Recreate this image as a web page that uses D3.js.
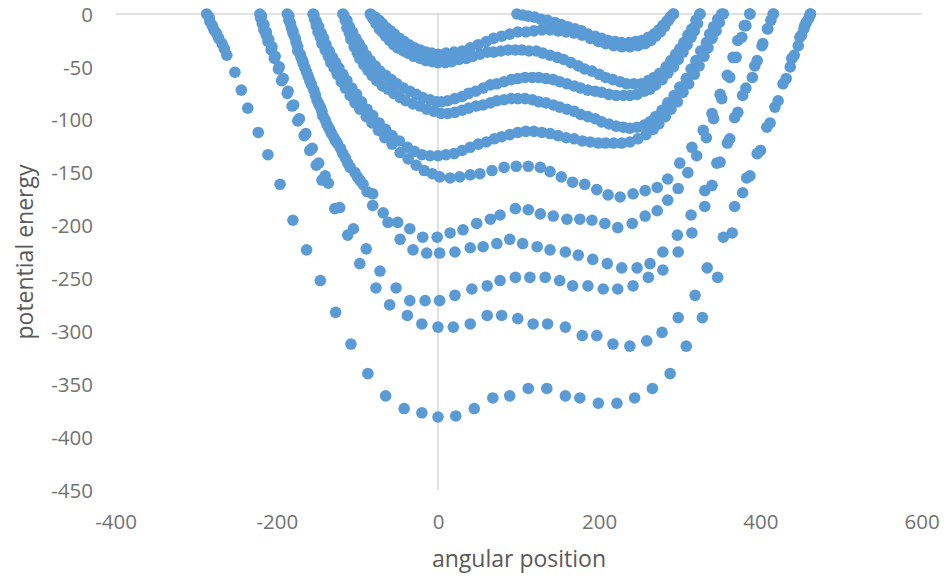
<!DOCTYPE html>
<html><head><meta charset="utf-8">
<script src="https://cdn.jsdelivr.net/npm/d3@7"></script>
<style>body{margin:0;background:#fff;}svg{display:block;}</style>
</head><body>
<script>
// ---- data (angular position, potential energy) ----
const xTicks = [-400, -200, 0, 200, 400, 600];
const yTicks = [0, -50, -100, -150, -200, -250, -300, -350, -400, -450];
const xTitle = "angular position";
const yTitle = "potential energy";

const stripTop = [[98,0],[105,-1],[112,-2],[120,-3],[128,-5],[136,-6],[145,-8],[153,-10],[161,-12],[170,-14],[178,-16],[186,-19],[195,-21],[203,-23],[211,-25],[220,-26],[228,-27],[237,-27],[245,-26],[253,-25],[261,-22],[268,-19],[274,-15],[279,-11],[284,-7],[288,-3],[292,0]];
const strip1 = [[-83,-1],[-78,-3],[-73,-6],[-69,-9],[-64,-13],[-59,-16],[-54,-19],[-48,-23],[-42,-26],[-36,-29],[-29,-32],[-22,-34],[-15,-36],[-8,-37],[0,-38],[10,-37],[20,-36],[30,-35],[40,-32],[50,-29],[60,-26],[69,-23],[79,-21],[89,-19],[99,-17],[109,-17],[119,-16],[129,-15],[139,-15],[149,-16],[159,-17],[169,-18],[179,-20],[189,-23],[199,-26],[208,-28],[218,-30],[228,-31],[238,-31],[248,-30],[257,-28],[264,-25],[270,-21],[276,-17],[281,-12],[286,-6],[292,0]];
const strip2 = [[-84,0],[-81,-4],[-77,-9],[-73,-14],[-69,-17],[-65,-21],[-60,-25],[-55,-29],[-50,-32],[-43,-35],[-37,-37],[-30,-40],[-22,-42],[-15,-44],[-7,-45],[0,-46],[9,-46],[17,-45],[26,-43],[35,-42],[43,-40],[52,-38],[61,-36],[69,-36],[78,-35],[87,-34],[96,-34],[104,-34],[113,-35],[122,-35],[130,-37],[139,-39],[148,-41],[156,-43],[165,-46],[174,-49],[182,-52],[191,-54],[200,-57],[208,-60],[217,-62],[226,-64],[234,-66],[243,-66],[252,-66],[261,-63],[268,-60],[275,-56],[283,-50],[289,-44],[295,-38],[300,-33],[305,-27],[310,-20],[315,-14],[320,-6],[325,0]];
const strip3 = [[-117,-1],[-113,-6],[-110,-12],[-106,-17],[-102,-23],[-98,-28],[-94,-33],[-89,-39],[-84,-44],[-78,-49],[-72,-54],[-65,-58],[-58,-62],[-51,-66],[-43,-70],[-35,-73],[-27,-76],[-19,-79],[-10,-81],[-2,-83],[4,-83],[12,-82],[21,-80],[30,-78],[38,-75],[47,-73],[56,-70],[65,-67],[73,-66],[82,-64],[91,-62],[99,-61],[108,-60],[117,-60],[125,-60],[134,-61],[143,-62],[151,-64],[160,-66],[169,-68],[177,-70],[186,-72],[195,-73],[203,-74],[212,-76],[221,-77],[230,-77],[238,-77],[247,-76],[256,-73],[263,-71],[270,-67],[278,-62],[285,-56],[292,-50],[298,-43],[304,-36],[309,-29],[314,-22],[318,-16],[322,-9],[325,0]];
const strip4 = [[-118,0],[-115,-6],[-113,-13],[-110,-18],[-108,-24],[-104,-31],[-100,-37],[-97,-42],[-92,-48],[-87,-53],[-82,-58],[-76,-63],[-69,-68],[-62,-71],[-55,-75],[-47,-79],[-40,-82],[-31,-85],[-22,-87],[-14,-90],[-5,-92],[4,-94],[12,-94],[21,-93],[30,-91],[38,-89],[47,-87],[56,-86],[65,-84],[73,-82],[82,-81],[91,-80],[99,-80],[108,-80],[117,-81],[125,-83],[134,-84],[143,-86],[151,-88],[160,-90],[169,-92],[177,-95],[186,-97],[195,-99],[203,-102],[212,-104],[221,-106],[230,-107],[238,-108],[247,-107],[256,-105],[263,-102],[270,-97],[278,-91],[285,-84],[293,-77],[300,-69],[308,-61],[314,-52],[320,-44],[326,-35],[333,-27],[337,-19],[342,-12],[347,-5],[352,0]];
const strip5 = [[-154,-1],[-151,-7],[-148,-12],[-145,-18],[-142,-23],[-139,-29],[-135,-35],[-131,-41],[-127,-46],[-123,-51],[-118,-57],[-113,-63],[-107,-70],[-101,-76],[-95,-83],[-88,-90],[-81,-96],[-73,-103],[-65,-109],[-57,-115],[-48,-120],[-38,-126],[-29,-130],[-20,-133],[-10,-134],[0,-134],[10,-133],[20,-132],[30,-129],[40,-126],[50,-123],[60,-121],[70,-118],[79,-116],[89,-114],[99,-112],[109,-111],[119,-111],[129,-112],[139,-113],[149,-115],[159,-117],[169,-118],[179,-120],[189,-121],[199,-122],[208,-122],[218,-122],[228,-122],[238,-121],[248,-118],[258,-114],[267,-109],[274,-104],[282,-97],[289,-90],[297,-83],[304,-74],[311,-66],[318,-57],[324,-49],[330,-40],[335,-32],[340,-23],[345,-16],[349,-8],[354,0]];
const strip6 = [[-155,0],[-153,-5],[-151,-11],[-149,-17],[-146,-22],[-144,-28],[-140,-34],[-136,-40],[-133,-46],[-129,-51],[-125,-57],[-120,-64],[-115,-70],[-109,-77],[-103,-84],[-97,-90],[-89,-97],[-82,-103],[-74,-110],[-66,-117],[-57,-123],[-47,-131],[-37,-137],[-27,-143],[-17,-148],[-7,-151],[2,-154],[15,-155],[27,-154],[40,-152],[52,-151],[67,-148],[82,-145],[97,-144],[112,-144],[127,-145],[139,-149],[153,-154],[167,-159],[182,-161],[197,-166],[211,-171],[226,-173],[242,-170],[257,-167],[272,-164],[285,-156],[300,-141],[315,-126],[329,-110],[340,-94],[350,-76],[359,-58],[366,-41],[372,-25],[380,-11],[387,0]];
const strip7 = [[-185,-2],[-183,-9],[-180,-16],[-177,-23],[-174,-31],[-171,-38],[-168,-44],[-165,-51],[-161,-59],[-157,-67],[-152,-77],[-148,-85],[-144,-92],[-140,-100],[-136,-107],[-132,-113],[-127,-120],[-121,-127],[-115,-136],[-109,-145],[-100,-154],[-93,-161],[-81,-170],[-68,-188],[-50,-197],[-35,-203],[-19,-211],[-1,-211],[15,-207],[31,-204],[48,-198],[65,-194],[77,-190],[96,-184],[112,-185],[127,-189],[143,-191],[160,-194],[176,-194],[191,-195],[207,-198],[223,-202],[241,-198],[257,-191],[272,-186],[285,-176],[298,-165],[310,-150],[321,-134],[333,-117],[342,-99],[352,-80],[362,-60],[370,-41],[377,-22],[382,-11],[387,0]];
const strip8 = [[-187,0],[-185,-6],[-182,-13],[-180,-18],[-176,-27],[-174,-35],[-170,-41],[-167,-47],[-163,-55],[-159,-63],[-154,-72],[-150,-82],[-146,-88],[-143,-96],[-138,-104],[-134,-110],[-129,-117],[-125,-122],[-118,-132],[-112,-141],[-103,-150],[-97,-157],[-88,-168],[-81,-181],[-62,-197],[-47,-213],[-31,-223],[-14,-226],[2,-226],[21,-225],[40,-221],[56,-220],[73,-217],[89,-213],[105,-217],[123,-220],[139,-223],[158,-225],[174,-228],[192,-232],[210,-236],[228,-240],[247,-240],[263,-236],[279,-225],[297,-209],[314,-190],[331,-167],[346,-141],[359,-122],[368,-98],[378,-77],[390,-60],[396,-44],[403,-28],[409,-14],[416,0]];
const strip9 = [[-219,-2],[-216,-10],[-213,-17],[-210,-24],[-206,-31],[-202,-40],[-197,-50],[-192,-61],[-186,-73],[-179,-86],[-172,-99],[-164,-113],[-156,-127],[-148,-141],[-140,-153],[-136,-160],[-122,-183],[-105,-203],[-89,-222],[-72,-243],[-52,-259],[-35,-271],[-16,-271],[2,-271],[21,-266],[42,-260],[61,-257],[77,-252],[96,-249],[114,-249],[133,-249],[151,-252],[167,-257],[186,-257],[205,-260],[223,-260],[242,-257],[261,-249],[279,-242],[298,-225],[315,-207],[331,-182],[340,-162],[350,-140],[362,-118],[372,-93],[382,-70],[393,-49],[402,-30],[409,-14],[413,-6],[416,0]];
const strip10 = [[-221,0],[-220,-4],[-218,-9],[-216,-15],[-213,-20],[-211,-26],[-207,-34],[-203,-42],[-198,-52],[-194,-63],[-187,-75],[-181,-87],[-174,-101],[-166,-115],[-159,-129],[-151,-143],[-144,-157],[-128,-184],[-112,-209],[-97,-236],[-77,-259],[-60,-275],[-38,-285],[-20,-293],[0,-296],[19,-296],[40,-293],[61,-285],[79,-285],[99,-288],[118,-293],[136,-293],[158,-296],[179,-304],[197,-304],[217,-312],[238,-314],[259,-309],[278,-301],[298,-287],[319,-266],[334,-240],[354,-211],[368,-182],[383,-155],[396,-132],[408,-107],[418,-88],[428,-66],[439,-42],[449,-22],[455,-11],[462,0]];
const strip11 = [[-287,0],[-284,-3],[-283,-7],[-280,-11],[-278,-15],[-275,-18],[-272,-23],[-268,-28],[-265,-33],[-262,-39],[-252,-55],[-244,-72],[-236,-89],[-223,-112],[-211,-133],[-196,-161],[-180,-195],[-163,-223],[-146,-252],[-127,-282],[-108,-312],[-87,-340],[-65,-361],[-42,-373],[-20,-377],[0,-381],[22,-380],[45,-373],[68,-363],[89,-361],[112,-354],[135,-354],[158,-361],[176,-363],[199,-368],[222,-368],[244,-363],[266,-354],[288,-340],[308,-314],[328,-287],[347,-249],[365,-207],[378,-169],[387,-153],[400,-129],[412,-103],[422,-82],[432,-61],[437,-50],[442,-39],[447,-30],[451,-20],[454,-14],[457,-8],[460,-4],[462,0]];

const series = [stripTop, strip1, strip2, strip3, strip4, strip5, strip6, strip7, strip8, strip9, strip10, strip11];

// ---- drawing ----
const W = 948, H = 576;
const svg = d3.select("body").append("svg").attr("width", W).attr("height", H)
  .style("background", "#fff");

const x = d3.scaleLinear().domain([-400, 600]).range([115.6, 921.6]);
const y = d3.scaleLinear().domain([-450, 0]).range([490, 14]);

// axis lines through zero
svg.append("line").attr("x1", x(-400)).attr("x2", x(600)).attr("y1", y(0)).attr("y2", y(0))
  .attr("stroke", "#d9d9d9").attr("stroke-width", 1.5);
svg.append("line").attr("x1", x(0)).attr("x2", x(0)).attr("y1", y(0)).attr("y2", y(-450))
  .attr("stroke", "#d9d9d9").attr("stroke-width", 1.5);

const fmt = d => String(d);
const gy = svg.append("g").attr("transform", "translate(93,0)")
  .call(d3.axisLeft(y).tickValues(yTicks).tickSize(0).tickPadding(0).tickFormat(fmt));
gy.select(".domain").remove();
gy.selectAll("text").attr("dy", "0.35em").attr("font-family", "'Open Sans', sans-serif")
  .attr("font-size", 20.5).attr("fill", "#737373");

const gx = svg.append("g").attr("transform", "translate(0,522)")
  .call(d3.axisBottom(x).tickValues(xTicks).tickSize(0).tickPadding(0).tickFormat(fmt));
gx.select(".domain").remove();
gx.selectAll("text").attr("y", 0).attr("dy", "0.35em").attr("font-family", "'Open Sans', sans-serif")
  .attr("font-size", 20.5).attr("fill", "#737373");

svg.append("text").attr("x", 519).attr("y", 567).attr("text-anchor", "middle")
  .attr("font-family", "'Open Sans', sans-serif").attr("font-size", 23).attr("fill", "#595959")
  .text(xTitle);
svg.append("text").attr("transform", "translate(33,252) rotate(-90)").attr("text-anchor", "middle")
  .attr("font-family", "'Open Sans', sans-serif").attr("font-size", 23).attr("fill", "#595959")
  .text(yTitle);

// points
const pts = svg.append("g");
series.forEach(s => {
  pts.selectAll(null).data(s).enter().append("circle")
    .attr("cx", d => x(d[0])).attr("cy", d => y(d[1])).attr("r", 5.8)
    .attr("fill", "#5b9bd5");
});
</script>
</body></html>
